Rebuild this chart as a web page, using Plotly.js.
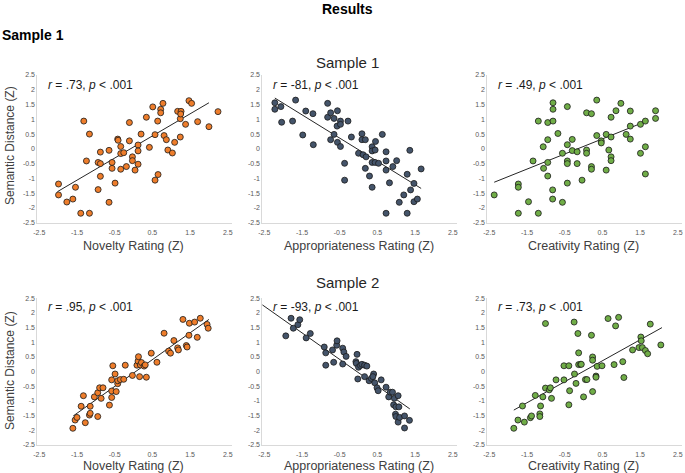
<!DOCTYPE html>
<html>
<head>
<meta charset="utf-8">
<script src="https://cdn.plot.ly/plotly-3.0.1.min.js"></script>
<style>html,body{margin:0;padding:0;background:#fff;}#chart{width:685px;height:473px;}</style>
</head>
<body>
<div id="chart"></div>
<script>
// ---------- DATA ----------
// Sample 1 : Novelty
const s1NovX = [-1.99,-1.99,-1.77,-1.61,-1.54,-1.40,-1.17,-1.32,-1.17,-1.25,-0.88,-0.94,-0.88,-0.88,-0.94,-0.65,-0.57,-0.57,-0.49,-0.65,-0.42,-0.41,-0.34,-0.34,-0.26,-0.34,-0.19,-0.11,-0.11,-0.03,-0.03,0.04,0.12,0.12,0.12,0.20,0.34,0.42,0.51,0.57,0.57,0.65,0.64,0.72,0.72,0.78,0.81,0.87,0.91,1.03,1.09,1.24,1.24,1.17,1.26,1.25,1.38,1.47,1.54,1.70,2.00,2.24];
const s1NovY = [-1.19,-1.56,-1.80,-1.70,-1.30,-2.18,-2.18,0.94,0.50,-0.41,-0.11,-0.46,-0.50,-0.93,-1.38,-0.05,-0.46,-0.66,-1.16,-1.81,0.33,0.29,0.08,-0.16,-0.13,-0.69,-0.60,0.89,0.27,-0.27,-0.40,-0.72,0.13,-0.07,-0.52,0.50,1.07,0.05,1.42,0.48,-1.06,-0.87,0.94,1.34,1.22,1.54,0.45,0.31,-0.04,-0.14,0.22,0.40,1.02,1.27,1.27,1.18,0.83,1.63,1.54,0.92,0.75,1.26];
const s1NovFitX = [-2.02, 2.00];
const s1NovFitY = [-1.45, 1.56];

// Sample 1 : Appropriateness
const s1AppX = [-2.22,-2.22,-2.06,-2.04,-1.75,-1.67,-1.48,-1.40,-1.21,-1.20,-0.82,-0.82,-0.74,-0.74,-0.65,-0.65,-0.56,-0.57,-0.56,-0.48,-0.48,-0.48,-0.28,-0.37,-0.37,-0.19,0.00,0.09,0.09,0.18,0.12,0.20,0.18,0.29,0.36,0.36,0.36,0.36,0.44,0.45,0.44,0.53,0.63,0.73,0.73,0.73,0.73,0.82,0.91,1.01,1.08,1.20,1.29,1.29,1.36,1.38,1.47,1.47,1.56,1.66];
const s1AppY = [1.56,1.34,1.43,0.90,0.94,1.65,0.47,1.28,1.19,0.14,1.54,1.07,1.22,0.31,1.03,0.49,1.29,0.77,0.22,0.94,0.83,0.08,0.94,-0.49,-1.06,0.40,-0.15,0.51,0.31,0.31,-0.20,-0.27,-0.66,-0.92,0.07,-0.07,-0.46,-1.30,-0.04,0.25,-0.46,-0.49,0.49,-0.10,-0.41,-0.72,-2.18,-1.15,-0.60,-0.40,-1.81,-1.56,-0.86,-2.18,-0.05,-1.39,-1.17,-1.79,-1.70,-0.68];
const s1AppFitX = [-2.22, 1.66];
const s1AppFitY = [1.72, -1.34];

// Sample 1 : Creativity
const s1CreX = [-2.37,-1.73,-1.73,-1.73,-1.46,-1.34,-1.20,-1.20,-1.07,-1.06,-0.95,-0.95,-0.95,-0.95,-0.81,-0.81,-0.81,-0.82,-0.82,-0.68,-0.56,-0.56,-0.43,-0.43,-0.43,-0.43,-0.43,-0.30,-0.30,-0.17,-0.17,-0.04,0.08,0.08,0.08,0.21,0.21,0.21,0.35,0.35,0.47,0.47,0.60,0.60,0.67,0.73,0.73,0.73,0.73,0.86,0.99,1.13,1.24,1.24,1.24,1.51,1.51,1.64,1.64,1.64,1.91,1.91];
const s1CreY = [-1.56,-1.19,-1.30,-2.18,-1.79,-0.41,0.94,-2.18,0.07,-0.66,0.89,0.31,-0.46,-0.92,1.56,1.34,0.94,-1.39,-1.70,0.52,-0.15,-1.81,1.43,0.14,-0.41,-0.50,-1.16,0.32,-0.06,-0.10,-0.50,-1.06,1.22,-0.04,-0.15,1.19,-0.60,-0.69,1.65,0.45,0.27,0.20,0.49,-0.72,-0.04,1.07,0.40,-0.27,-0.40,1.29,1.54,0.49,1.28,0.77,0.33,0.83,-0.15,0.94,0.07,-0.85,1.29,1.03];
const s1CreFitX = [-2.37, 1.64];
const s1CreFitY = [-1.13, 0.92];

// Sample 2 : Novelty
const s2NovX = [-1.61,-1.55,-1.50,-1.39,-1.33,-1.28,-1.17,-1.15,-1.15,-1.04,-0.95,-0.95,-0.90,-0.81,-0.86,-0.64,-0.58,-0.58,-0.58,-0.55,-0.49,-0.46,-0.42,-0.42,-0.35,-0.26,-0.22,-0.03,0.09,0.12,0.13,0.16,0.18,0.21,0.28,0.31,0.34,0.47,0.62,0.81,0.93,0.98,1.07,1.17,1.19,1.31,1.40,1.42,1.47,1.48,1.62,1.69,1.77,1.95,1.98];
const s2NovY = [-1.93,-1.65,-1.56,-1.18,-0.82,-1.74,-1.48,-1.42,-1.18,-0.86,-0.72,-1.53,-0.55,-0.55,-0.91,-1.14,-0.66,-0.88,-0.28,0.20,-0.08,-0.68,-0.41,-0.31,-0.27,-0.26,0.22,-0.13,0.22,0.36,0.51,-0.17,0.23,0.31,0.19,0.23,-0.19,0.63,0.32,1.31,0.70,0.63,1.06,0.81,0.74,1.78,0.89,0.84,1.24,1.65,1.69,1.17,1.82,1.61,1.48];
const s2NovFitX = [-1.60, 2.00];
const s2NovFitY = [-1.51, 1.78];

// Sample 2 : Appropriateness
const s2AppX = [-2.60,-1.93,-1.79,-1.73,-1.61,-1.56,-1.39,-1.28,-0.91,-0.87,-0.87,-0.69,-0.66,-0.58,-0.57,-0.42,-0.39,-0.42,-0.33,-0.04,-0.07,-0.06,0.00,0.05,0.09,0.16,0.22,-0.02,0.16,0.28,0.34,0.40,0.38,0.43,0.49,0.52,0.60,0.73,0.80,0.84,0.90,0.95,0.93,0.99,0.98,0.99,1.05,1.07,1.05,1.09,1.22,1.22,1.35];
const s2AppY = [1.70,1.22,1.82,1.48,1.60,1.77,1.15,1.30,0.84,0.64,0.22,0.74,0.32,0.90,1.05,0.80,0.67,0.26,0.52,0.59,0.34,0.28,0.15,0.21,0.25,0.22,0.19,-0.25,-0.17,-0.31,-0.23,-0.08,-0.17,-0.38,-0.55,-0.65,-0.28,-0.53,-0.86,-0.70,-0.70,-0.91,-1.13,-1.20,-1.45,-1.53,-0.82,-1.20,-1.72,-1.56,-1.51,-1.92,-1.66];
const s2AppFitX = [-2.60, 1.36];
const s2AppFitY = [2.32, -1.27];

// Sample 2 : Creativity
const s2CreX = [-1.85,-1.74,-1.62,-1.57,-1.41,-1.38,-1.28,-1.16,-1.16,-1.14,-1.08,-1.01,-0.91,-0.88,-0.85,-1.01,-0.73,-0.52,-0.52,-0.39,-0.39,-0.37,-0.25,-0.24,-0.20,-0.15,-0.13,-0.13,-0.08,-0.06,0.00,0.05,0.09,0.21,0.24,0.24,0.24,0.33,0.33,0.36,0.49,0.65,0.81,0.85,0.93,1.04,1.07,1.30,1.47,1.52,1.53,1.56,1.64,1.70,1.77,2.05];
const s2CreY = [-1.93,-1.65,-1.17,-1.72,-1.57,-1.51,-0.81,-1.44,-1.53,-1.17,-0.86,-0.56,-0.62,-0.55,-0.91,1.64,-0.28,-0.28,0.20,0.20,-1.13,-0.65,1.69,-0.08,-0.40,1.30,0.64,0.24,0.25,0.25,-0.86,-0.27,-0.27,1.24,0.50,0.39,-0.68,-0.15,-0.19,0.18,0.20,1.81,0.24,1.56,1.85,0.34,-0.20,0.74,0.82,1.18,1.05,0.82,0.72,0.61,1.62,0.91];
const s2CreFitX = [-1.85, 2.08];
const s2CreFitY = [-1.31, 1.50];

// Tick labels
const xTickVals = [-2.5,-1.5,-0.5,0.5,1.5,2.5];
const xTickText = ['-2.5','-1.5','-0.5','0.5','1.5','2.5'];
const yTickVals = [-2.5,-2,-1.5,-1,-0.5,0,0.5,1,1.5,2,2.5];
const yTickText = ['-2.5','-2','-1.5','-1','-0.5','0','0.5','1','1.5','2','2.5'];

// Text
const mainTitle = 'Results';
const sectionTitle = 'Sample 1';
const rowTitles = ['Sample 1','Sample 2'];
const xTitles = ['Novelty Rating (Z)','Appropriateness Rating (Z)','Creativity Rating (Z)'];
const yTitle = 'Semantic Distance (Z)';
const statLabels = [
  ['<i>r</i> = .73, <i>p</i> &lt; .001','<i>r</i> = -81, <i>p</i> &lt; .001','<i>r</i> = .49, <i>p</i> &lt; .001'],
  ['<i>r</i> = .95, <i>p</i> &lt; .001','<i>r</i> = -93, <i>p</i> &lt; .001','<i>r</i> = .73, <i>p</i> &lt; .001']
];

// ---------- STYLE / LAYOUT ----------
const W = 685, H = 473;
const FONT = 'Arial, "Liberation Sans", sans-serif';
const colors = ['#EE7D2B', '#44546A', '#70AD47'];
const xUnitPx = 37.7;
const xRange = [-2.55, 2.6];
const minus25Px = [39.3, 264.3, 489.3];          // pixel of x = -2.5 in each column
const rowTopPx = [75, 298.3];
const rowBottomPx = [222.7, 445];
const statY = [2.17, 2.22];
const xTitleYPx = [246, 466];
const yTitleCenterPx = [146, 371];
const rowTitleYPx = [62, 282];

const panels = [
  [ [s1NovX,s1NovY,s1NovFitX,s1NovFitY], [s1AppX,s1AppY,s1AppFitX,s1AppFitY], [s1CreX,s1CreY,s1CreFitX,s1CreFitY] ],
  [ [s2NovX,s2NovY,s2NovFitX,s2NovFitY], [s2AppX,s2AppY,s2AppFitX,s2AppFitY], [s2CreX,s2CreY,s2CreFitX,s2CreFitY] ]
];

const traces = [];
const layout = {
  width: W, height: H,
  margin: {l:0, r:0, t:0, b:0},
  paper_bgcolor: '#ffffff', plot_bgcolor: 'rgba(0,0,0,0)',
  showlegend: false,
  font: {family: FONT, color: '#404040'},
  hovermode: false,
  annotations: []
};

let idx = 0;
for (let r = 0; r < 2; r++) {
  for (let c = 0; c < 3; c++) {
    idx++;
    const xa = 'x' + (idx === 1 ? '' : idx);
    const ya = 'y' + (idx === 1 ? '' : idx);
    const [px, py, fx, fy] = panels[r][c];
    traces.push({
      type: 'scatter', mode: 'lines', x: fx, y: fy, xaxis: xa, yaxis: ya,
      line: {color: '#262626', width: 1}, cliponaxis: false
    });
    traces.push({
      type: 'scatter', mode: 'markers', x: px, y: py, xaxis: xa, yaxis: ya,
      marker: {size: 6, color: colors[c], line: {color: '#1a1a1a', width: 0.8}},
      cliponaxis: false
    });
    const leftPx = minus25Px[c] + (xRange[0] + 2.5) * xUnitPx;
    const rightPx = minus25Px[c] + (xRange[1] + 2.5) * xUnitPx;
    const xDom = [leftPx / W, rightPx / W];
    const yDom = [1 - rowBottomPx[r] / H, 1 - rowTopPx[r] / H];
    const axCommon = {
      showgrid: false, zeroline: false, showline: true,
      linecolor: '#D9D9D9', linewidth: 1, ticks: '',
      tickfont: {size: 7, color: '#595959', family: FONT},
      tickmode: 'array', fixedrange: true
    };
    layout['xaxis' + (idx === 1 ? '' : idx)] = Object.assign({}, axCommon, {
      domain: xDom, anchor: ya, range: xRange,
      tickvals: xTickVals, ticktext: xTickText, ticklabelstandoff: 3
    });
    layout['yaxis' + (idx === 1 ? '' : idx)] = Object.assign({}, axCommon, {
      domain: yDom, anchor: xa, range: [-2.5, 2.5],
      tickvals: yTickVals, ticktext: yTickText
    });
    layout.annotations.push({
      xref: xa, yref: ya, x: -2.33, y: statY[r], xanchor: 'left', yanchor: 'middle',
      text: statLabels[r][c], showarrow: false,
      font: {size: 12, color: '#1a1a1a', family: FONT}
    });
    layout.annotations.push({
      xref: xa, yref: 'paper', x: 0, y: 1 - xTitleYPx[r] / H, xanchor: 'center', yanchor: 'middle',
      text: xTitles[c], showarrow: false,
      font: {size: 12.5, color: '#404040', family: FONT}
    });
  }
  layout.annotations.push({
    xref: 'paper', yref: 'paper', x: 10 / W, y: 1 - yTitleCenterPx[r] / H,
    xanchor: 'center', yanchor: 'middle', textangle: -90,
    text: yTitle, showarrow: false,
    font: {size: 12, color: '#404040', family: FONT}
  });
  layout.annotations.push({
    xref: 'paper', yref: 'paper', x: 347 / W, y: 1 - rowTitleYPx[r] / H,
    xanchor: 'center', yanchor: 'middle',
    text: rowTitles[r], showarrow: false,
    font: {size: 15, color: '#262626', family: FONT}
  });
}
layout.annotations.push({
  xref: 'paper', yref: 'paper', x: 347 / W, y: 1 - 9 / H, xanchor: 'center', yanchor: 'middle',
  text: '<b>' + mainTitle + '</b>', showarrow: false,
  font: {size: 14, color: '#000000', family: FONT}
});
layout.annotations.push({
  xref: 'paper', yref: 'paper', x: 0, y: 1 - 35 / H, xanchor: 'left', yanchor: 'middle',
  text: '<b>' + sectionTitle + '</b>', showarrow: false,
  font: {size: 14, color: '#000000', family: FONT}
});

Plotly.newPlot('chart', traces, layout, {staticPlot: true, displayModeBar: false});
</script>
</body>
</html>
